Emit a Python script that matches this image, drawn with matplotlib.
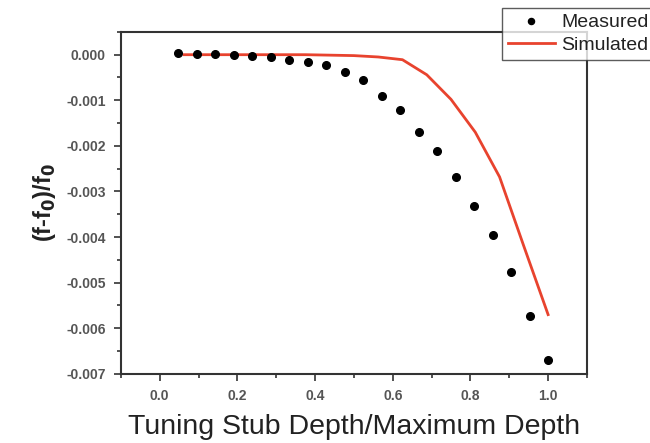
import numpy as np
import matplotlib.pyplot as plt
from matplotlib.ticker import MultipleLocator

plt.rcParams["font.family"] = ["Liberation Sans", "DejaVu Sans"]

# measured: 21 steps of the tuning stub
meas_x = np.arange(1, 22) / 21
meas_y = [0.00004, 0.00002, 0.00001, 0.0, -0.00002, -0.00006, -0.00011, -0.00015,
          -0.00023, -0.00037, -0.00055, -0.00090, -0.00122, -0.00170, -0.00212,
          -0.00268, -0.00331, -0.00395, -0.00477, -0.00574, -0.00669]

# simulated: 16 steps
sim_x = np.arange(1, 17) / 16
sim_y = [0.0, 0.0, 0.0, 0.0, 0.0, 0.0, -0.00001, -0.00002, -0.00005,
         -0.00011, -0.00044, -0.00098, -0.00170, -0.00268, -0.00420, -0.00570]

fig = plt.figure(figsize=(6.5, 4.43), dpi=100)
ax = fig.add_axes([0.186, 0.156, 0.717, 0.772])

ax.plot(sim_x, sim_y, color="#e8432e", lw=2, label="Simulated", zorder=2)
ax.plot(meas_x, meas_y, "o", color="black", ms=5.5, label="Measured", zorder=3)

ax.set_xlim(-0.1, 1.1)
ax.set_ylim(-0.007, 0.0005)
ax.xaxis.set_major_locator(MultipleLocator(0.2))
ax.xaxis.set_minor_locator(MultipleLocator(0.1))
ax.yaxis.set_major_locator(MultipleLocator(0.001))
ax.yaxis.set_minor_locator(MultipleLocator(0.0005))
ax.xaxis.set_major_formatter(plt.FuncFormatter(lambda v, p: f"{v:.1f}"))
ax.yaxis.set_major_formatter(plt.FuncFormatter(lambda v, p: f"{v:.3f}".replace("-0.000", "0.000")))

for s in ax.spines.values():
    s.set_color("#333333")
    s.set_linewidth(1.5)
ax.tick_params(which="both", direction="out", color="#333333", width=1.2,
               labelcolor="#555555", labelsize=10)
ax.tick_params(which="major", length=5, pad=6)
ax.tick_params(which="minor", length=3)
for lab in ax.get_xticklabels() + ax.get_yticklabels():
    lab.set_fontweight("bold")

ax.set_xlabel("Tuning Stub Depth/Maximum Depth", fontsize=20.5, color="#222222", labelpad=8)
ax.set_ylabel("(f-f$_\\mathbf{0}$)/f$_\\mathbf{0}$", fontsize=17, fontweight="bold",
              color="#222222", labelpad=6)

# legend box runs past the right edge of the figure, as in the original
h, l = ax.get_legend_handles_labels()
leg = fig.legend(h[::-1], l[::-1], loc="upper left", bbox_to_anchor=(502 / 650, 1 - 8 / 443),
                 fontsize=14, frameon=True, fancybox=False, handlelength=2.4, markerscale=0.8,
                 handletextpad=0.36, borderpad=0.3, labelspacing=0.25, borderaxespad=0)
leg.get_frame().set_edgecolor("#333333")
leg.get_frame().set_linewidth(1.0)
for t in leg.get_texts():
    t.set_color("#222222")

fig.savefig("out.png", dpi=100)
